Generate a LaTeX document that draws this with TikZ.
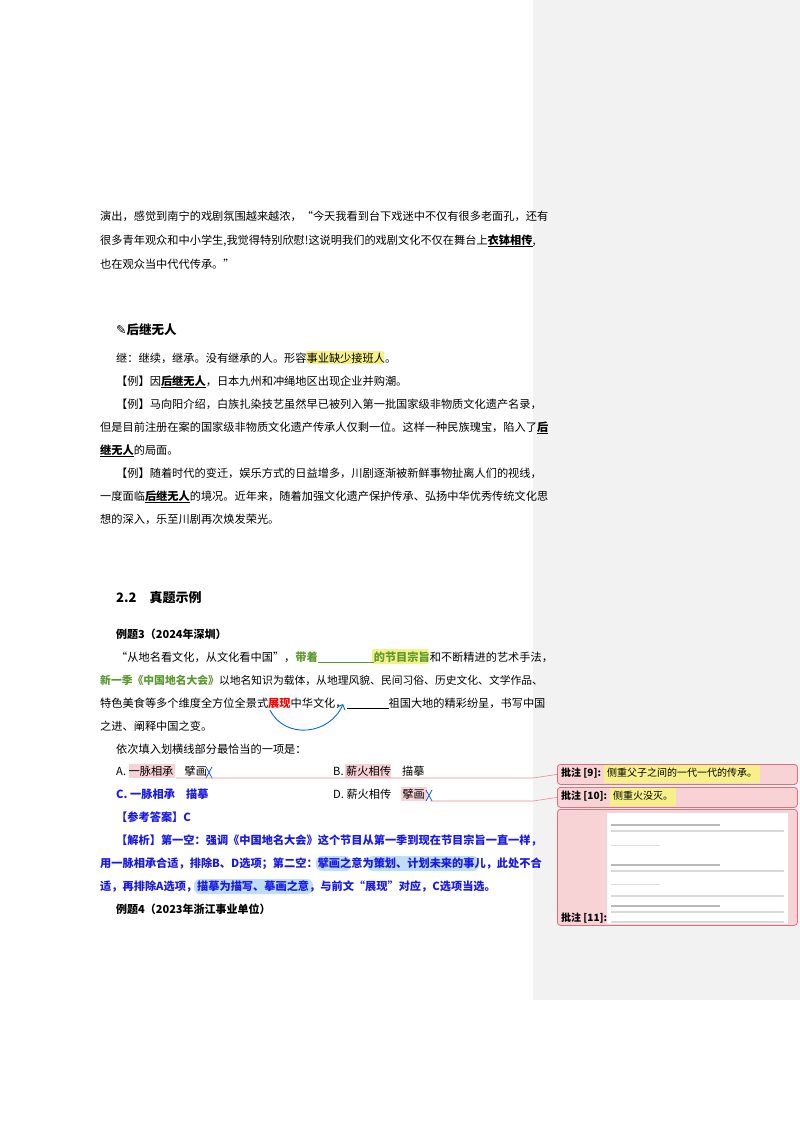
\documentclass[tikz,border=0pt]{standalone}
\usepackage{fontspec}
\setmainfont{Noto Sans CJK SC}
\newfontfamily\cjk{Noto Sans CJK SC}
\newfontfamily\dv{DejaVu Sans}
\usetikzlibrary{arrows.meta}
\definecolor{grn}{HTML}{5A9A2E}
\definecolor{blu}{HTML}{1A1AE6}
\definecolor{pk}{HTML}{F7D3D6}
\definecolor{pkb}{HTML}{E0707A}
\definecolor{yel}{HTML}{F5F08A}
\definecolor{lb}{HTML}{BFDDF7}
\newcommand{\ul}[1]{\textbf{\underline{#1}}}
\begin{document}
\begin{tikzpicture}[x=1pt,y=-1pt,
  t/.style={anchor=base west,inner sep=0pt,font=\cjk\fontsize{11.2}{13}\selectfont},
  tb/.style={t,text=blu,font=\cjk\bfseries\fontsize{11.2}{13}\selectfont},
  cbox/.style={draw=pkb,fill=pk,rounded corners=3pt,line width=0.8pt},
  hl/.style={rounded corners=2pt}]
\useasboundingbox (0,0) rectangle (800,1132);
\fill[white] (0,0) rectangle (800,1132);
\fill[gray!10] (533,0) rectangle (800,1000);
% highlights
\fill[yel,hl] (306,351) rectangle (384,364);
\fill[yel,hl] (372,649) rectangle (429,664);
\fill[pk] (129,764) rectangle (175,778);
\fill[pk] (345,764) rectangle (391,778);
\fill[pk] (401,787) rectangle (427,801);
\fill[lb,rounded corners=6pt] (316,856) rectangle (351,871);
\fill[lb,rounded corners=6pt] (367,856) rectangle (479,871);
\fill[lb,rounded corners=6pt] (194,879) rectangle (313,894);
% text
\node[t] (l1) at (100,220) {演出，感觉到南宁的戏剧氛围越来越浓，“今天我看到台下戏迷中不仅有很多老面孔，还有};
\node[t] (l2) at (100,244) {很多青年观众和中小学生,我觉得特别欣慰!这说明我们的戏剧文化不仅在舞台上\ul{衣钵相传},};
\node[t] (l3) at (100,268) {也在观众当中代代传承。”};
\node[t,font=\cjk\bfseries\fontsize{12.5}{14}\selectfont] (h1) at (116,334) {{\dv ✎}后继无人};
\node[t] (l4) at (116,362) {继：继续，继承。没有继承的人。形容事业缺少接班人。};
\node[t] (l5) at (116,385) {【例】因\ul{后继无人}，日本九州和冲绳地区出现企业并购潮。};
\node[t] (l6) at (116,408) {【例】马向阳介绍，白族扎染技艺虽然早已被列入第一批国家级非物质文化遗产名录，};
\node[t] (l7) at (100,431) {但是目前注册在案的国家级非物质文化遗产传承人仅剩一位。这样一种民族瑰宝，陷入了\ul{后}};
\node[t] (l8) at (100,454) {\ul{继无人}的局面。};
\node[t] (l9) at (116,477) {【例】随着时代的变迁，娱乐方式的日益增多，川剧逐渐被新鲜事物扯离人们的视线，};
\node[t] (l10) at (100,500) {一度面临\ul{后继无人}的境况。近年来，随着加强文化遗产保护传承、弘扬中华优秀传统文化思};
\node[t] (l11) at (100,523) {想的深入，乐至川剧再次焕发荣光。};
\node[t,font=\cjk\bfseries\fontsize{13}{15}\selectfont] (h2) at (116,602) {2.2\quad 真题示例};
\node[t,font=\cjk\bfseries\fontsize{11}{13}\selectfont] (e3) at (116,638) {例题3（2024年深圳）};
\node[t] (q1) at (116,661) {“从地名看文化，从文化看中国”，\textcolor{grn}{\textbf{带着\underline{\hspace{56pt}}的节目宗旨}}和不断精进的艺术手法，};
\node[t,font=\cjk\fontsize{10.8}{13}\selectfont] (q2) at (100,684) {\textcolor{grn}{\textbf{新一季《中国地名大会》}}以地名知识为载体，从地理风貌、民间习俗、历史文化、文学作品、};
\node[t] (q3) at (100,707) {特色美食等多个维度全方位全景式\textcolor{red}{\textbf{展现}}中华文化，\underline{\hspace{42pt}}祖国大地的精彩纷呈，书写中国};
\node[t] (q4) at (100,730) {之进、阐释中国之变。};
\node[t] (q5) at (116,753) {依次填入划横线部分最恰当的一项是：};
\node[t] (oa) at (116,775) {A. 一脉相承\quad 擘画};
\node[t] (ob) at (333,775) {B. 薪火相传\quad 描摹};
\node[tb] (oc) at (116,798) {C. 一脉相承\quad 描摹};
\node[t] (od) at (333,798) {D. 薪火相传\quad 擘画};
\node[tb] (ans) at (116,821) {【参考答案】C};
\node[tb] (x1) at (116,844) {【解析】第一空：强调《中国地名大会》这个节目从第一季到现在节目宗旨一直一样，};
\node[tb] (x2) at (100,867) {用一脉相承合适，排除B、D选项；第二空：擘画之意为策划、计划未来的事儿，此处不合};
\node[tb] (x3) at (100,890) {适，再排除A选项，描摹为描写、摹画之意，与前文“展现”对应，C选项当选。};
\node[t,font=\cjk\bfseries\fontsize{11}{13}\selectfont] (e4) at (116,913) {例题4（2023年浙江事业单位）};
% blue curved arrow
\coordinate (ca) at (270,710);
\coordinate (cb) at (343,704);
\draw[blue!60!cyan,line width=0.9pt,-{Straight Barb[length=4pt]}] (ca) .. controls (285,740) and (330,735) .. (cb);
% cursor marks
\draw[blue!70!cyan,line width=0.7pt] (206,767)--(212,778) (212,767)--(206,778);
\draw[blue!70!cyan,line width=0.7pt] (426,790)--(432,801) (432,790)--(426,801);
% comment boxes
\node[cbox,minimum width=240pt,minimum height=20pt,anchor=north west,inner sep=0pt] (c9) at (557,764) {};
\node[anchor=west,inner sep=0pt,font=\cjk\fontsize{10}{12}\selectfont] at (561,774) {\textbf{批注 [9]:} \colorbox{yel}{\strut 侧重父子之间的一代一代的传承。}};
\node[cbox,minimum width=240pt,minimum height=20pt,anchor=north west,inner sep=0pt] (c10) at (557,787) {};
\node[anchor=west,inner sep=0pt,font=\cjk\fontsize{10}{12}\selectfont] at (561,797) {\textbf{批注 [10]:} \colorbox{yel}{\strut 侧重火没灭。}};
\node[cbox,minimum width=240pt,minimum height=116pt,anchor=north west,inner sep=0pt] (c11) at (557,809) {};
\fill[white] (607,813) rectangle (788,924);
\node[anchor=base west,inner sep=0pt,font=\cjk\bfseries\fontsize{10}{12}\selectfont] at (561,921) {批注 [11]:};
\foreach \yy in {826,866,907}{
  \fill[gray!55] (611,\yy-2) rectangle (720,\yy);
  \fill[gray!30] (611,\yy+4) rectangle (784,\yy+5.5);}
\fill[gray!30] (611,895) rectangle (784,896.5);
\fill[gray!30] (611,921) rectangle (784,922.5);
\fill[gray!25] (611,845) rectangle (660,846);
\fill[gray!25] (611,884) rectangle (660,885);
% connectors
\coordinate (ka) at (176,778);
\coordinate (kd) at (430,801);
\draw[pkb!80,line width=0.6pt] (ka) -- (533,778) -- (c9.west);
\draw[pkb!80,line width=0.6pt] (kd) -- (533,801) -- (c10.west);
\end{tikzpicture}
\end{document}
